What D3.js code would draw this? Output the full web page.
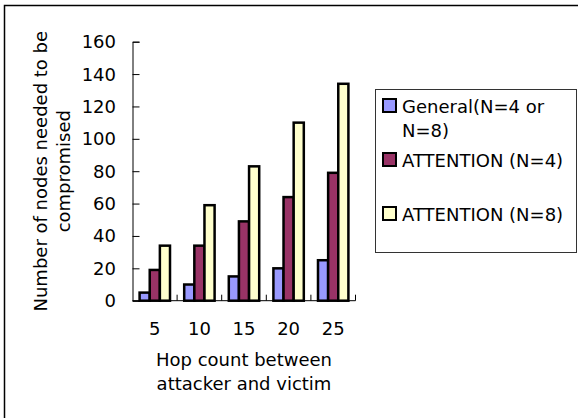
<!DOCTYPE html>
<html>
<head>
<meta charset="utf-8">
<script src="https://cdn.jsdelivr.net/npm/d3@7"></script>
<style>
  html, body { margin: 0; padding: 0; background: #fff; }
  svg { display: block; }
  text { font-family: "DejaVu Sans", "Liberation Sans", sans-serif; fill: #000; }
</style>
</head>
<body>
<svg id="chart" width="578" height="418"></svg>
<script>
// Hop counts on the x axis
const hopCounts = ["5", "10", "15", "20", "25"];
// Series names (legend lines separated by "\n")
const seriesNames = ["General(N=4 or\nN=8)", "ATTENTION (N=4)", "ATTENTION (N=8)"];
const seriesColors = ["#9999FF", "#993366", "#FFFFCC"];
// Nodes needed to be compromised, per series
const generalValues = [5, 10, 15, 20, 25];
const attention4Values = [19, 34, 49, 64, 79];
const attention8Values = [34, 59, 83, 110, 134];
const yTicks = [0, 20, 40, 60, 80, 100, 120, 140, 160];

const seriesValues = [generalValues, attention4Values, attention8Values];

const svg = d3.select("#chart");
const fontSize = 18;

// outer frame (open on the right and bottom edges)
svg.append("rect")
  .attr("x", 4.5).attr("y", 5.5)
  .attr("width", 700).attr("height", 600)
  .attr("fill", "none").attr("stroke", "#000").attr("stroke-width", 1.5);

const plot = { left: 132.5, right: 355.5, top: 41.7, bottom: 300.7 };

const x0 = d3.scaleBand().domain(hopCounts).range([plot.left, plot.right]).padding(0);
const x1 = d3.scaleBand().domain(d3.range(seriesValues.length))
  .range([0, x0.bandwidth()]).paddingInner(0).paddingOuter(0.7);
const y = d3.scaleLinear().domain([0, 160]).range([plot.bottom, plot.top]);

// bars
const groups = svg.append("g").selectAll("g")
  .data(hopCounts)
  .join("g")
  .attr("transform", d => `translate(${x0(d)},0)`);

groups.selectAll("rect")
  .data((d, i) => seriesValues.map((vals, s) => ({ s, v: vals[i] })))
  .join("rect")
  .attr("x", d => x1(d.s))
  .attr("y", d => y(d.v))
  .attr("width", x1.bandwidth())
  .attr("height", d => y(0) - y(d.v))
  .attr("fill", d => seriesColors[d.s])
  .attr("stroke", "#000")
  .attr("stroke-width", 2.5);

// y axis with inward ticks
const yAxis = svg.append("g")
  .attr("transform", `translate(${plot.left},0)`)
  .call(d3.axisRight(y).tickValues(yTicks).tickSize(7).tickFormat(""));
yAxis.select(".domain").attr("stroke", "#000").attr("stroke-width", 1);
yAxis.selectAll(".tick line").attr("stroke", "#000");

svg.append("g").selectAll("text")
  .data(yTicks)
  .join("text")
  .attr("x", 116)
  .attr("y", d => y(d))
  .attr("dy", "0.36em")
  .attr("text-anchor", "end")
  .attr("font-size", fontSize)
  .text(d => d);

// x axis: ticks at category boundaries pointing up
const boundaries = hopCounts.map(d => x0(d) + x0.bandwidth());
const xLine = svg.append("g");
xLine.append("line")
  .attr("x1", plot.left).attr("x2", plot.right)
  .attr("y1", plot.bottom).attr("y2", plot.bottom)
  .attr("stroke", "#000").attr("stroke-width", 1);
xLine.selectAll("line.tk")
  .data(boundaries)
  .join("line")
  .attr("class", "tk")
  .attr("x1", d => d).attr("x2", d => d)
  .attr("y1", plot.bottom).attr("y2", plot.bottom - 6)
  .attr("stroke", "#000");

svg.append("g").selectAll("text")
  .data(hopCounts)
  .join("text")
  .attr("x", d => x0(d) + x0.bandwidth() / 2)
  .attr("y", 335)
  .attr("text-anchor", "middle")
  .attr("font-size", fontSize)
  .text(d => d);

// x axis title
const xTitle = ["Hop count between", "attacker and victim"];
svg.append("g").selectAll("text")
  .data(xTitle)
  .join("text")
  .attr("x", (plot.left + plot.right) / 2)
  .attr("y", (d, i) => 366 + i * 24)
  .attr("text-anchor", "middle")
  .attr("font-size", fontSize)
  .text(d => d);

// y axis title
const yTitle = ["Number of nodes needed to be", "compromised"];
const yMid = (plot.top + plot.bottom) / 2;
svg.append("g").selectAll("text")
  .data(yTitle)
  .join("text")
  .attr("transform", (d, i) => `translate(${47 + i * 23},${yMid}) rotate(-90)`)
  .attr("text-anchor", "middle")
  .attr("font-size", fontSize)
  .text(d => d);

// legend
const legend = svg.append("g");
legend.append("rect")
  .attr("x", 375.5).attr("y", 89.5)
  .attr("width", 201).attr("height", 163)
  .attr("fill", "#fff").attr("stroke", "#333").attr("stroke-width", 1);

const legendRows = [99, 153, 207];
const items = legend.selectAll("g.item")
  .data(seriesNames)
  .join("g")
  .attr("class", "item")
  .attr("transform", (d, i) => `translate(383,${legendRows[i]})`);

items.append("rect")
  .attr("width", 13).attr("height", 13)
  .attr("fill", (d, i) => seriesColors[i])
  .attr("stroke", "#000").attr("stroke-width", 2);

items.append("text")
  .attr("font-size", fontSize)
  .selectAll("tspan")
  .data(d => d.split("\n"))
  .join("tspan")
  .attr("x", 19)
  .attr("y", (d, i) => 13.5 + i * 24)
  .text(d => d);
</script>
</body>
</html>
